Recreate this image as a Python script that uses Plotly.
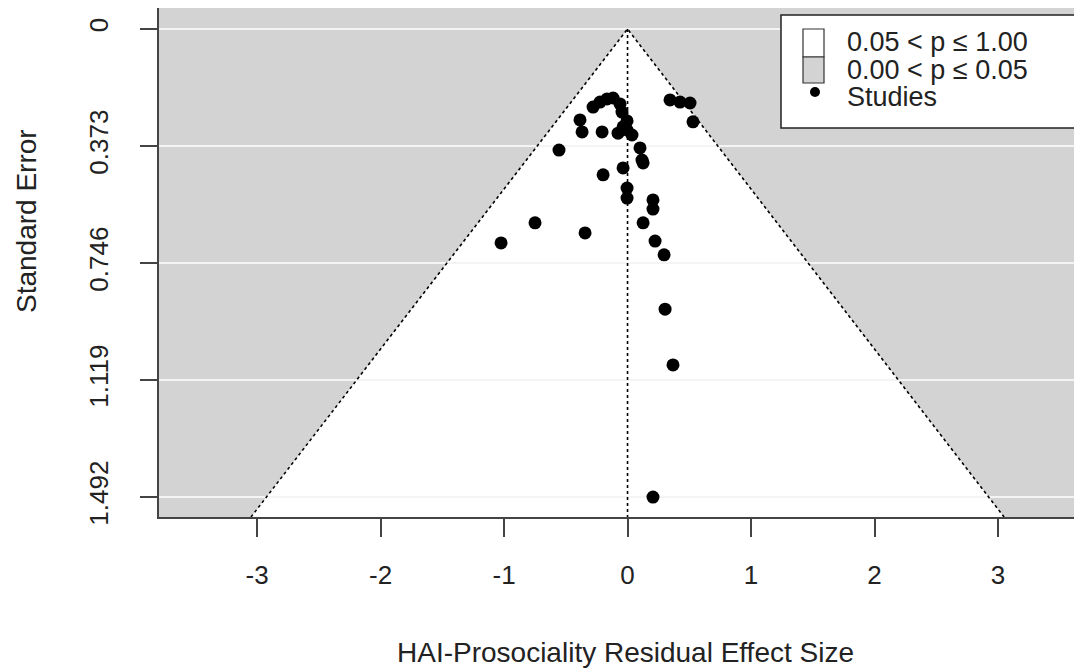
import plotly.graph_objects as go

# Residual effect sizes (x) and standard errors (y)
effect = [-0.279, -0.223, -0.166, -0.117, -0.061, -0.045, -0.004, -0.036, -0.004, -0.077,
          0.036, -0.385, -0.368, -0.206, -0.555, 0.101, 0.117, 0.126, -0.036, -0.198,
          -0.004, -0.004, 0.206, 0.206, -0.749, 0.126, -0.344, -1.024, 0.223, 0.296,
          0.304, 0.368, 0.206, 0.344, 0.425, 0.506, 0.530]
se = [0.249, 0.233, 0.223, 0.220, 0.239, 0.265, 0.293, 0.312, 0.322, 0.332,
      0.338, 0.290, 0.328, 0.328, 0.386, 0.379, 0.418, 0.427, 0.443, 0.465,
      0.507, 0.539, 0.545, 0.574, 0.618, 0.618, 0.650, 0.682, 0.676, 0.720,
      0.893, 1.071, 1.492, 0.226, 0.233, 0.236, 0.296]

y_ticks = [0, 0.373, 0.746, 1.119, 1.492]
y_tick_labels = ["0", "0.373", "0.746", "1.119", "1.492"]
x_ticks = [-3, -2, -1, 0, 1, 2, 3]
x_tick_labels = ["-3", "-2", "-1", "0", "1", "2", "3"]
legend_labels = ["0.05 < p \u2264 1.00", "0.00 < p \u2264 0.05", "Studies"]

x_range = [-3.794, 3.680]
y_max = 1.5556
y_top = -0.0669
z = 1.96

FONT = "Liberation Sans, Arial, sans-serif"
TXT = "#222222"

# the page body has an 8px margin; the plot area spans page px x 159..1082, y 8..517
OFF = 8
PL, PR, PT, PB = 159, 1082, 8, 517


def px_x(p):
    return (p - PL) / (PR - PL)


def px_y(p):
    return (PB - p) / (PB - PT)


fig = go.Figure()

# funnel lines
fig.add_trace(go.Scatter(x=[-z * y_max, 0, z * y_max], y=[y_max, 0, y_max], mode="lines",
                         line=dict(color="black", width=1.6, dash="dot"),
                         hoverinfo="skip", showlegend=False))
fig.add_trace(go.Scatter(x=[0, 0], y=[0, y_max], mode="lines",
                         line=dict(color="black", width=1.6, dash="dot"),
                         hoverinfo="skip", showlegend=False))
# studies
fig.add_trace(go.Scatter(x=effect, y=se, mode="markers",
                         marker=dict(color="black", size=13),
                         name="Studies", showlegend=False))

shapes = [
    dict(type="rect", xref="paper", yref="paper", x0=0, x1=1, y0=0, y1=1,
         fillcolor="#d3d3d3", line=dict(width=0), layer="below"),
    dict(type="path", xref="x", yref="y",
         path=f"M 0 0 L {-z * y_max} {y_max} L {z * y_max} {y_max} Z",
         fillcolor="white", line=dict(width=0), layer="below"),
]

# manual legend (paper coords)
shapes += [
    dict(type="rect", xref="paper", yref="paper", x0=px_x(781), x1=px_x(1080),
         y0=px_y(128), y1=px_y(15), fillcolor="white", line=dict(color="#222", width=1.5)),
    dict(type="rect", xref="paper", yref="paper", x0=px_x(803), x1=px_x(824),
         y0=px_y(57), y1=px_y(29), fillcolor="white", line=dict(color="#333", width=1.2)),
    dict(type="rect", xref="paper", yref="paper", x0=px_x(803), x1=px_x(824),
         y0=px_y(83), y1=px_y(57), fillcolor="#d3d3d3", line=dict(color="#333", width=1.2)),
    dict(type="circle", xref="paper", yref="paper", x0=px_x(810), x1=px_x(820),
         y0=px_y(97), y1=px_y(87), fillcolor="black", line=dict(color="black", width=0)),
]

annotations = []
for lab, py in zip(legend_labels, [42, 70, 97]):
    annotations.append(dict(x=px_x(845), y=px_y(py), xref="paper", yref="paper",
                            text=lab, showarrow=False, xanchor="left", yanchor="middle",
                            font=dict(family=FONT, size=27, color=TXT)))
annotations.append(dict(x=px_x(26), y=px_y(221), xref="paper", yref="paper",
                        text="Standard Error", showarrow=False, textangle=-90,
                        xanchor="center", yanchor="middle",
                        font=dict(family=FONT, size=28, color=TXT)))
annotations.append(dict(x=px_x(625.5), y=px_y(652), xref="paper", yref="paper",
                        text="HAI-Prosociality Residual Effect Size", showarrow=False,
                        xanchor="center", yanchor="middle",
                        font=dict(family=FONT, size=28, color=TXT)))

fig.update_layout(
    width=1082 - OFF, height=670 - OFF,
    margin=dict(l=PL - OFF, r=0, t=PT - OFF, b=(670 - OFF) - (PB - OFF)),
    paper_bgcolor="white", plot_bgcolor="white",
    shapes=shapes, annotations=annotations,
    showlegend=False,
    xaxis=dict(range=x_range, tickvals=x_ticks, ticktext=x_tick_labels,
               showgrid=False, zeroline=False, showline=True, linecolor="#444", linewidth=2,
               ticks="outside", ticklen=18, tickwidth=2, tickcolor="#444",
               ticklabelstandoff=16,
               tickfont=dict(family=FONT, size=26, color=TXT)),
    yaxis=dict(range=[y_max, y_top], tickvals=y_ticks, ticktext=y_tick_labels,
               showgrid=True, gridcolor="#f4f4f4", gridwidth=2, zeroline=False,
               showline=True, linecolor="#444", linewidth=2,
               ticks="outside", ticklen=17, tickwidth=2, tickcolor="#444",
               tickangle=-90, ticklabelstandoff=22,
               tickfont=dict(family=FONT, size=26, color=TXT)),
)

fig.write_html("out.html")
